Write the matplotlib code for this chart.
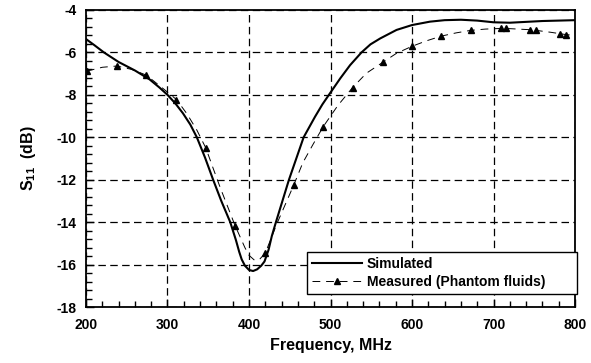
import numpy as np
import matplotlib
matplotlib.use('Agg')
import matplotlib.pyplot as plt
from matplotlib.ticker import MultipleLocator

plt.rcParams['font.family'] = ['Liberation Sans', 'DejaVu Sans']
plt.rcParams['font.weight'] = 'bold'
plt.rcParams['axes.unicode_minus'] = False
plt.rcParams['mathtext.fontset'] = 'custom'
plt.rcParams['mathtext.rm'] = 'Liberation Sans:bold'
plt.rcParams['mathtext.bf'] = 'Liberation Sans:bold'

# simulated S11
simFreq = [200, 210, 222, 240, 260, 278, 290, 300, 310, 319, 328, 336, 346, 356, 366,
           377, 384, 388, 391, 395, 400, 405, 410, 415, 419, 424, 428, 433, 441, 449,
           458, 467, 481, 490, 498, 512, 524, 538, 549, 561, 581, 600, 622, 640, 660,
           680, 700, 720, 740, 760, 780, 800]
simS11 = [-5.37, -5.65, -6.0, -6.45, -6.85, -7.27, -7.65, -8.0, -8.42, -8.87, -9.4,
          -10.0, -10.95, -12.0, -13.0, -14.0, -14.85, -15.4, -15.75, -16.05, -16.25,
          -16.3, -16.22, -16.05, -15.85, -15.3, -14.65, -14.0, -13.0, -12.0, -11.0,
          -10.0, -9.03, -8.45, -8.0, -7.22, -6.6, -6.0, -5.62, -5.34, -4.94, -4.71,
          -4.55, -4.48, -4.46, -4.5, -4.58, -4.6, -4.56, -4.52, -4.5, -4.48]

# measured S11 (phantom fluids)
measFreq = [201, 220, 238, 256, 274, 292, 311, 324, 336, 347, 356, 365, 383, 395, 400,
            407, 413, 420, 435, 455, 466, 478, 491, 509, 527, 544, 564, 581, 600, 618,
            636, 654, 672, 690, 709, 715, 730, 745, 752, 770, 782, 789, 800]
measS11 = [-6.88, -6.7, -6.64, -6.8, -7.07, -7.62, -8.22, -8.9, -9.66, -10.5, -11.46,
           -12.4, -14.17, -15.2, -15.56, -15.8, -15.75, -15.45, -14.0, -12.24, -11.2,
           -10.37, -9.5, -8.5, -7.66, -6.98, -6.47, -6.04, -5.71, -5.45, -5.23, -5.08,
           -4.96, -4.9, -4.87, -4.87, -4.9, -4.93, -4.96, -5.05, -5.12, -5.16, -5.2]
measMarks = [201, 238, 274, 311, 347, 383, 420, 455, 491, 527, 564, 600, 636, 672,
             709, 715, 745, 752, 782, 789]

markIdx = [measFreq.index(f) for f in measMarks]

fig = plt.figure(figsize=(5.91, 3.63), dpi=100)
ax = fig.add_axes([0.1455, 0.154, 0.8275, 0.8185])

ax.plot(simFreq, simS11, color='k', linewidth=1.5, label='Simulated', zorder=3)
ax.plot(measFreq, measS11, color='k', linewidth=0.7, linestyle=(0, (8, 6)),
        marker='^', markersize=4, markevery=markIdx,
        label='Measured (Phantom fluids)       ', zorder=3)

ax.set_xlim(200, 800)
ax.set_ylim(-18, -4)
ax.xaxis.set_major_locator(MultipleLocator(100))
ax.xaxis.set_minor_locator(MultipleLocator(20))
ax.yaxis.set_major_locator(MultipleLocator(2))
ax.yaxis.set_minor_locator(MultipleLocator(0.4))
ax.tick_params(which='both', direction='in', top=False, right=False, labelsize=10, width=1)
ax.tick_params(which='major', length=6)
ax.tick_params(which='minor', length=4)
ax.tick_params(axis='x', which='major', pad=8)
ax.tick_params(axis='y', which='major', pad=7)
ax.grid(True, which='major', color='k', linestyle=(0, (6, 3.5)), linewidth=0.9)

for s in ax.spines.values():
    s.set_linewidth(1.3)

ax.set_xlabel('Frequency, MHz', fontsize=11.5, fontweight='bold', labelpad=4)
ax.set_ylabel(r'$\mathbf{S_{11}}$  (dB)', fontsize=11.5, fontweight='bold', labelpad=13)

leg = ax.legend(loc='lower right', fontsize=10, frameon=True, fancybox=False,
                edgecolor='k', framealpha=1, borderpad=0.35, labelspacing=0.3,
                handlelength=3.6, handletextpad=0.35, borderaxespad=0,
                bbox_to_anchor=(1.004, 0.044))
leg.get_frame().set_linewidth(1.0)

fig.savefig('out.png', dpi=100)
